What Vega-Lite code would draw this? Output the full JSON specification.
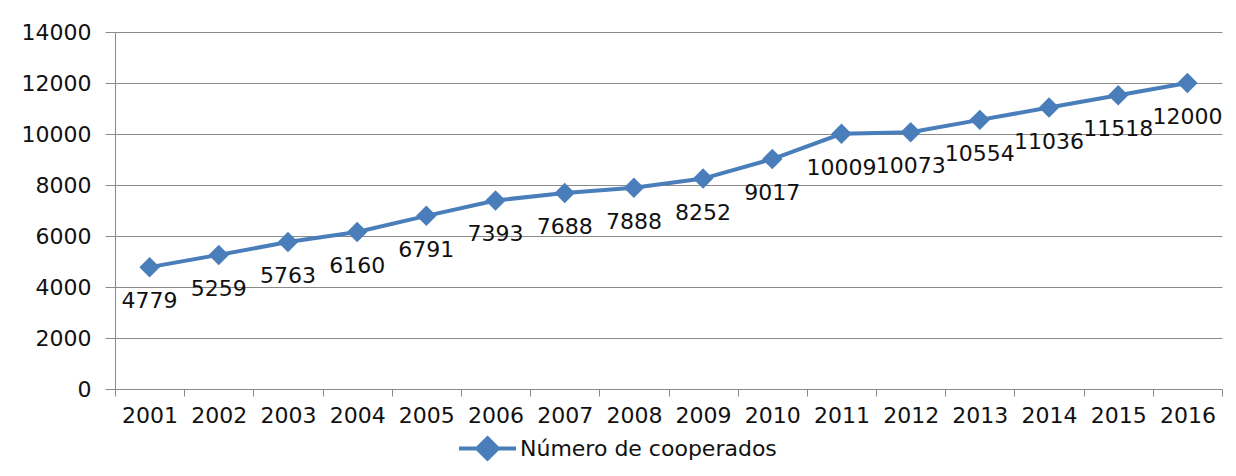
{
  "$schema": "https://vega.github.io/schema/vega-lite/v6.json",
  "autosize": {"type": "none"},
  "width": 1107,
  "height": 357,
  "padding": {"left": 115, "top": 32, "right": 14, "bottom": 87},
  "background": "white",
  "config": {
    "view": {"stroke": null},
    "font": "DejaVu Sans",
    "axis": {"labelFont": "DejaVu Sans", "labelFontSize": 22, "labelColor": "#111111", "domainColor": "#8a8a8a", "tickColor": "#8a8a8a", "gridColor": "#8a8a8a", "gridWidth": 1, "domainWidth": 1, "tickWidth": 1}
  },
  "data": {
    "values": [
      {"ano": "2001", "valor": 4779, "serie": "Número de cooperados"},
      {"ano": "2002", "valor": 5259, "serie": "Número de cooperados"},
      {"ano": "2003", "valor": 5763, "serie": "Número de cooperados"},
      {"ano": "2004", "valor": 6160, "serie": "Número de cooperados"},
      {"ano": "2005", "valor": 6791, "serie": "Número de cooperados"},
      {"ano": "2006", "valor": 7393, "serie": "Número de cooperados"},
      {"ano": "2007", "valor": 7688, "serie": "Número de cooperados"},
      {"ano": "2008", "valor": 7888, "serie": "Número de cooperados"},
      {"ano": "2009", "valor": 8252, "serie": "Número de cooperados"},
      {"ano": "2010", "valor": 9017, "serie": "Número de cooperados"},
      {"ano": "2011", "valor": 10009, "serie": "Número de cooperados"},
      {"ano": "2012", "valor": 10073, "serie": "Número de cooperados"},
      {"ano": "2013", "valor": 10554, "serie": "Número de cooperados"},
      {"ano": "2014", "valor": 11036, "serie": "Número de cooperados"},
      {"ano": "2015", "valor": 11518, "serie": "Número de cooperados"},
      {"ano": "2016", "valor": 12000, "serie": "Número de cooperados"}
    ]
  },
  "encoding": {
    "x": {
      "field": "ano", "type": "ordinal",
      "scale": {"type": "band", "paddingInner": 0, "paddingOuter": 0},
      "axis": {"title": null, "labelAngle": 0, "tickBand": "extent", "tickSize": 7, "labelPadding": 9, "grid": false}
    },
    "y": {
      "field": "valor", "type": "quantitative",
      "scale": {"domain": [0, 14000], "nice": false},
      "axis": {"title": null, "values": [0, 2000, 4000, 6000, 8000, 10000, 12000, 14000], "tickSize": 10, "labelPadding": 14, "format": "d", "grid": true}
    }
  },
  "layer": [
    {
      "mark": {"type": "line", "strokeWidth": 4, "point": {"shape": "diamond", "size": 420, "filled": true, "opacity": 1}},
      "encoding": {
        "color": {
          "field": "serie", "type": "nominal",
          "scale": {"range": ["#4a7ebb"]},
          "legend": {
            "title": null, "orient": "none", "legendX": 342, "legendY": 386,
            "symbolType": "M-1,0H1M0,-0.36L0.36,0L0,0.36L-0.36,0Z",
            "symbolSize": 3249, "symbolStrokeWidth": 4, "symbolFillColor": "#4a7ebb", "symbolStrokeColor": "#4a7ebb",
            "labelFont": "DejaVu Sans", "labelFontSize": 22, "labelColor": "#111111", "labelOffset": 2, "labelLimit": 600
          }
        }
      }
    },
    {
      "mark": {"type": "text", "dy": 34, "fontSize": 22, "font": "DejaVu Sans", "color": "#111111", "align": "center", "baseline": "middle"},
      "encoding": {"text": {"field": "valor", "type": "quantitative", "format": "d"}}
    }
  ]
}
